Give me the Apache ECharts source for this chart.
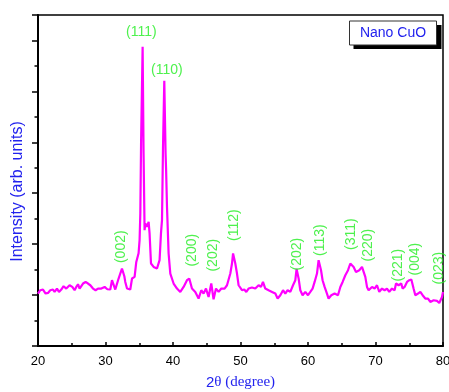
<!DOCTYPE html>
<html><head><meta charset="utf-8">
<script src="https://cdn.jsdelivr.net/npm/echarts@6/dist/echarts.min.js"></script>
<style>html,body{margin:0;padding:0;background:#fff}#c{width:449px;height:392px}</style>
</head><body><div id="c"></div>
<script>
// 2θ (degree)
const twoTheta = [20.00,20.34,20.74,21.13,21.48,21.82,22.22,22.46,22.81,23.11,23.45,23.79,24.19,24.44,24.68,25.08,25.42,25.67,25.93,26.16,26.67,27.05,27.41,27.75,28.15,28.53,28.89,29.38,29.87,30.27,30.71,30.96,31.45,31.94,32.44,32.79,32.93,33.19,33.67,33.93,34.31,34.56,34.76,34.90,35.05,35.16,35.27,35.50,35.64,35.79,35.90,36.15,36.39,36.53,36.74,37.13,37.63,38.01,38.22,38.37,38.52,38.71,38.90,38.98,39.11,39.35,39.60,40.09,40.59,41.08,41.57,42.07,42.41,42.81,43.30,43.79,44.19,44.53,44.89,45.27,45.67,46.01,46.37,46.76,47.16,47.64,48.00,48.49,48.74,48.90,49.23,49.48,49.72,50.22,50.56,50.86,51.20,51.70,52.19,52.68,53.04,53.33,53.67,54.16,54.67,55.16,55.50,55.90,56.30,56.64,56.98,57.38,57.78,58.12,58.31,58.61,58.86,59.20,59.60,60.00,60.34,60.68,60.98,61.33,61.57,61.72,61.93,62.16,62.46,62.81,63.05,63.45,63.94,64.44,64.79,65.13,65.53,65.93,66.27,66.52,66.76,67.11,67.60,68.00,68.24,68.49,68.74,68.98,69.48,69.87,70.22,70.56,70.96,71.35,71.70,72.04,72.44,72.83,73.04,73.42,73.82,74.01,74.31,74.67,75.01,75.31,75.64,75.90,76.30,76.64,76.98,77.38,77.78,78.12,78.61,79.11,79.45,79.85,80.00];
// Intensity (arb. units)
const intensity = [103.0,109.5,110.9,103.0,104.2,109.5,110.9,106.2,112.8,106.2,110.9,117.4,112.8,116.0,119.3,116.0,109.5,116.0,121.3,112.8,122.7,125.8,122.7,119.3,112.8,109.5,112.8,112.8,116.0,111.5,110.9,129.2,110.9,132.5,152.2,137.0,125.8,112.8,110.9,132.5,135.7,165.1,168.5,182.2,207.8,260.3,397.9,587.8,378.9,227.5,240.6,234.0,243.8,221.0,162.0,155.3,152.2,168.5,221.6,247.1,391.2,521.0,378.3,345.4,273.3,181.7,142.3,122.7,112.8,106.2,116.0,129.2,132.5,112.8,106.2,93.2,109.5,103.0,112.8,96.3,122.7,91.8,112.8,106.2,112.8,112.8,119.3,142.3,162.0,181.7,162.0,142.3,119.3,109.5,110.9,106.2,112.8,114.8,112.8,119.3,116.0,125.8,112.8,109.5,106.2,103.0,93.2,99.7,109.5,103.0,109.5,106.2,119.3,129.2,151.4,132.5,109.5,99.7,106.2,99.7,106.2,112.8,125.8,142.3,168.5,171.8,148.8,129.2,116.0,103.0,93.2,99.7,103.0,99.7,116.0,125.8,139.0,148.8,162.0,165.1,155.3,145.5,148.8,155.3,158.7,135.7,116.0,109.5,116.0,112.8,119.3,106.2,112.8,109.5,112.8,106.2,112.8,109.5,122.7,119.3,122.7,112.8,116.0,125.8,129.2,130.5,112.8,99.7,103.0,106.2,99.7,93.2,93.2,86.5,89.8,88.5,84.5,96.3,106.2];
// Peak labels (Miller indices) and where they sit
const peakLabels = ['(111)','(110)','(002)','(200)','(202)','(112)','(202)','(113)','(311)','(220)','(221)','(004)','(023)'];
const labelTheta = [35.32,39.08,32.27,42.86,45.90,49.08,58.41,61.82,66.41,68.93,73.37,75.89,79.38];
const labelHeight = [615.8,541.0,195.0,188.1,178.3,237.3,180.3,207.8,219.6,198.0,158.7,170.5,152.8];
const labelRotated = [false,false,true,true,true,true,true,true,true,true,true,true,true];
const xTicks = [20,30,40,50,60,70,80];
const legendText = 'Nano CuO';

const chart = echarts.init(document.getElementById('c'));
const lineData = twoTheta.map((t,i)=>[t,intensity[i]]);
const labelData = peakLabels.map((s,i)=>({
  value:[labelTheta[i],labelHeight[i]], name:s,
  label:{rotate: labelRotated[i]?90:0}
}));
const sans = 'Liberation Sans, Arial, sans-serif';
chart.setOption({
  animation:false,
  grid:{left:38,right:6,top:15,bottom:46,outerBoundsMode:'none',containLabel:false,
    show:true,borderColor:'#000',borderWidth:1.5,backgroundColor:'transparent'},
  xAxis:{type:'value',min:xTicks[0],max:xTicks[xTicks.length-1],interval:10,
    axisLine:{lineStyle:{color:'#000',width:2}},
    axisTick:{inside:true,length:4,lineStyle:{color:'#000',width:1.5}},
    minorTick:{show:true,splitNumber:2,length:3,lineStyle:{color:'#000',width:1.5}},
    splitLine:{show:false},
    axisLabel:{color:'#000',fontSize:13,fontFamily:sans,margin:9},
    name:'{a|2}{b|θ (degree)}',nameLocation:'middle',nameGap:29,
    nameTextStyle:{rich:{a:{fontFamily:sans,fontSize:15,color:'#2222ee'},b:{fontFamily:'Liberation Serif, Times New Roman, serif',fontSize:15,color:'#2222ee'}}}
  },
  yAxis:{type:'value',min:0,max:650,interval:100,
    axisLine:{lineStyle:{color:'#000',width:2}},
    axisTick:{inside:false,length:6,lineStyle:{color:'#000',width:1.5}},
    minorTick:{show:true,splitNumber:2,length:3.5,lineStyle:{color:'#000',width:1.5}},
    splitLine:{show:false},
    axisLabel:{show:false},
    name:'Intensity (arb. units)',nameLocation:'middle',nameGap:12,
    nameTextStyle:{color:'#2222ee',fontSize:16,fontFamily:sans,padding:[0,22,0,0]}
  },
  series:[
    {type:'line',data:lineData,showSymbol:false,symbol:'none',
     lineStyle:{color:'#ff00ff',width:2.2},z:3},
    {type:'scatter',data:labelData,symbolSize:0,z:4,
     label:{show:true,position:'inside',formatter:p=>p.name,color:'#22ee22',fontSize:14,fontFamily:sans}}
  ],
  graphic:[
    {type:'rect',shape:{x:353.5,y:25,width:88,height:24},style:{fill:'#000'},z:10},
    {type:'rect',shape:{x:349.5,y:21,width:87,height:24},style:{fill:'#fff',stroke:'#333',lineWidth:1},z:11},
    {type:'text',x:393,y:33,style:{text:legendText,fill:'#2222ee',font:'14px '+sans,textAlign:'center',textVerticalAlign:'middle'},z:12}
  ]
});
</script></body></html>
